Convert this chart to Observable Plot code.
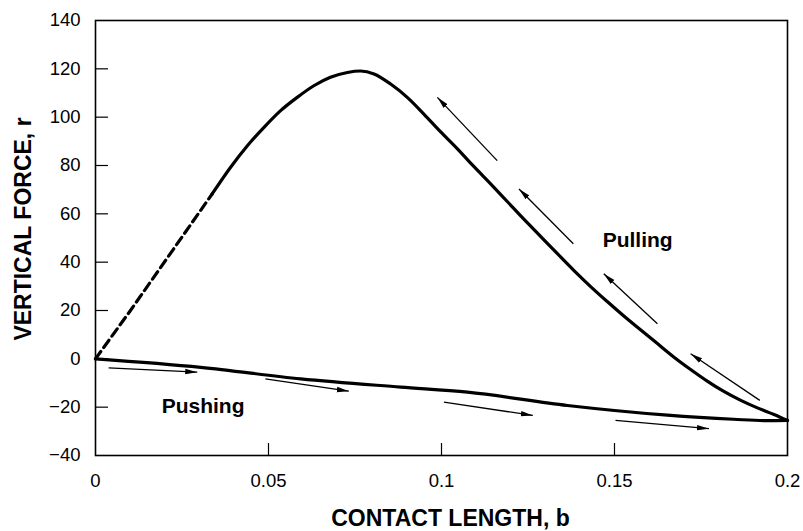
<!DOCTYPE html>
<html>
<head>
<meta charset="utf-8">
<script src="https://cdn.jsdelivr.net/npm/d3@7"></script>
<script src="https://cdn.jsdelivr.net/npm/@observablehq/plot@0.6"></script>
<style>
  html, body { margin: 0; padding: 0; background: #fff; }
  #chart svg { display: block; }
</style>
</head>
<body>
<div id="chart"></div>
<script>
// Tick values
const xTicks = [0, 0.05, 0.1, 0.15, 0.2];
const yTicks = [-40, -20, 0, 20, 40, 60, 80, 100, 120, 140];
const xTickLabels = ["0", "0.05", "0.1", "0.15", "0.2"];

// Pulling curve: dashed (extrapolated) start and solid part
const pullDashX = [0, 0.0101, 0.0337];
const pullDashY = [0, 20.0, 68.2];
const pullX = [0.0337, 0.0390, 0.0439, 0.0487, 0.0535, 0.0583, 0.0631, 0.0679, 0.0728, 0.0766, 0.0805, 0.0853, 0.0901, 0.0949, 0.0997, 0.1046, 0.1094, 0.1142, 0.1190, 0.1238, 0.1287, 0.1335, 0.1383, 0.1431, 0.1479, 0.1527, 0.1576, 0.1624, 0.1672, 0.1720, 0.1768, 0.1816, 0.1865, 0.1913, 0.1961, 0.2];
const pullY = [68.2, 79.2, 88.2, 95.8, 102.7, 108.2, 113.0, 116.5, 118.5, 119.1, 117.9, 113.7, 108.2, 101.3, 94.0, 86.9, 79.5, 72.4, 65.1, 57.8, 50.6, 43.5, 36.5, 29.9, 23.7, 17.7, 11.9, 6.3, 0.7, -4.4, -9.2, -13.5, -17.2, -20.3, -23.0, -25.5];

// Pushing curve
const pushX = [0, 0.0304, 0.0593, 0.0882, 0.1075, 0.1364, 0.1653, 0.1844, 0.194, 0.2];
const pushY = [0, -3.5, -8.3, -11.7, -13.8, -19.3, -23.3, -25.0, -25.6, -25.5];

// Direction arrows (tail -> head)
const pullArrowX1 = [0.1161, 0.1381, 0.1624, 0.1920];
const pullArrowY1 = [82.0, 47.6, 14.5, -17.2];
const pullArrowX2 = [0.0988, 0.1224, 0.1469, 0.1720];
const pullArrowY2 = [108.2, 70.3, 35.2, 2.1];

const pushArrowX1 = [0.0038, 0.0491, 0.1007, 0.1503];
const pushArrowY1 = [-3.7, -8.3, -17.9, -25.5];
const pushArrowX2 = [0.0294, 0.0732, 0.1264, 0.1773];
const pushArrowY2 = [-5.5, -13.4, -23.4, -28.9];

// Annotations
const labelText = ["Pulling", "Pushing"];
const labelX = [0.1567, 0.0311];
const labelY = [48.9, -19.5];

const toPts = (xs, ys) => xs.map((x, i) => ({x, y: ys[i]}));
const pullDash = toPts(pullDashX, pullDashY);
const pull = toPts(pullX, pullY);
const push = toPts(pushX, pushY);
const arrows = [
  ...pullArrowX1.map((x, i) => ({x1: x, y1: pullArrowY1[i], x2: pullArrowX2[i], y2: pullArrowY2[i]})),
  ...pushArrowX1.map((x, i) => ({x1: x, y1: pushArrowY1[i], x2: pushArrowX2[i], y2: pushArrowY2[i]}))
];
const labels = labelText.map((t, i) => ({t, x: labelX[i], y: labelY[i]}));

const W = 803, H = 531;
const mL = 95, mR = 16, mT = 20, mB = 76;
const innerW = W - mL - mR, innerH = H - mT - mB;

// Filled arrow-head marker
function filledHead(color) {
  const m = d3.create("svg:marker")
    .attr("viewBox", "-12 -4 13 8")
    .attr("markerWidth", 13)
    .attr("markerHeight", 8)
    .attr("markerUnits", "userSpaceOnUse")
    .attr("orient", "auto")
    .attr("refX", 0)
    .attr("refY", 0);
  m.append("path").attr("d", "M-12,-2.7L0,0L-12,2.7Z").attr("fill", "#000").attr("stroke", "none");
  return m.node();
}

function build(useCustomArrow) {
  const arrowMark = useCustomArrow
    ? Plot.link(arrows, {x1: "x1", y1: "y1", x2: "x2", y2: "y2", stroke: "#000", strokeWidth: 1.3, markerEnd: filledHead})
    : Plot.arrow(arrows, {x1: "x1", y1: "y1", x2: "x2", y2: "y2", stroke: "#000", strokeWidth: 1.3, headLength: 11, headAngle: 28});
  return Plot.plot({
    width: W,
    height: H,
    marginLeft: mL,
    marginRight: mR,
    marginTop: mT,
    marginBottom: mB,
    style: {fontFamily: "'Liberation Sans', Arial, Helvetica, sans-serif", background: "#fff", color: "#000"},
    x: {domain: [0, 0.2]},
    y: {domain: [-40, 140]},
    marks: [
      Plot.axisY({ticks: yTicks, tickSize: 0, tickPadding: 15, fontSize: 18.5, label: null}),
      Plot.axisX({ticks: xTicks, tickSize: 0, tickPadding: 18, fontSize: 18.5, label: null,
        tickFormat: (d) => xTickLabels[xTicks.indexOf(d)]}),
      Plot.tickY(yTicks.slice(1, -1), {y: d => d, insetRight: innerW - 13, stroke: "#000", strokeWidth: 1.2}),
      Plot.tickX(xTicks.slice(1, -1), {x: d => d, insetTop: innerH - 12, stroke: "#000", strokeWidth: 1.2}),
      Plot.frame({stroke: "#000", strokeWidth: 1.6}),
      Plot.line(pullDash, {x: "x", y: "y", stroke: "#000", strokeWidth: 3.2, strokeDasharray: "9,5"}),
      Plot.line(pull, {x: "x", y: "y", stroke: "#000", strokeWidth: 3.2, curve: "monotone-x"}),
      Plot.line(push, {x: "x", y: "y", stroke: "#000", strokeWidth: 3.2, curve: "monotone-x"}),
      arrowMark,
      Plot.text(labels, {x: "x", y: "y", text: "t", fontSize: 21, fontWeight: "bold", fill: "#000"}),
      Plot.text(["CONTACT LENGTH, b"], {frameAnchor: "bottom", dy: 70, dx: 9, lineAnchor: "bottom", text: d => d, fontSize: 23, fontWeight: "bold", fill: "#000"}),
      Plot.text(["VERTICAL FORCE, r"], {frameAnchor: "left", dx: -65, dy: -9, rotate: -90, textAnchor: "middle", lineAnchor: "bottom", text: d => d, fontSize: 23, fontWeight: "bold", fill: "#000"})
    ]
  });
}

let chart;
try { chart = build(true); } catch (e) { chart = build(false); }
document.getElementById("chart").appendChild(chart);
</script>
</body>
</html>
